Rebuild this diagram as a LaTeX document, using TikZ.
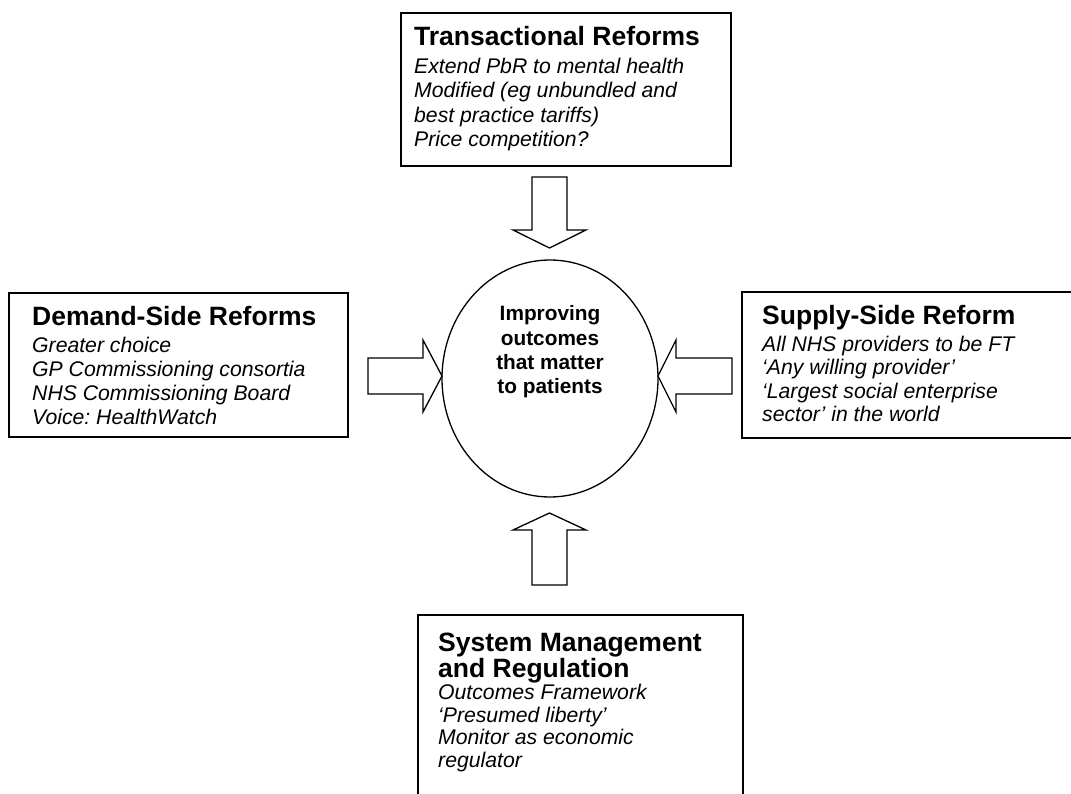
\documentclass[tikz,border=0pt]{standalone}
\usepackage{fontspec}
\setmainfont{Liberation Sans}
\usetikzlibrary{shapes.geometric}
\frenchspacing
\newcommand\myttl{\fontsize{26.5}{30}\selectfont\bfseries}
\newcommand\mybdy{\fontsize{21.2}{24}\selectfont\itshape}
\newcommand\myctr{\fontsize{20.8}{24}\selectfont\bfseries}
\newcommand\myT[1]{\hbox{\myttl #1}}
\newcommand\myB[1]{\hbox{\mybdy #1}}
\newcommand\myC[1]{\hbox to 160pt{\hfil\myctr #1\hfil}}
\newcommand\myskip[1]{\baselineskip=#1pt\relax}
\newcommand\myblock[1]{\vtop{\lineskiplimit=-100pt\lineskip=0pt\parindent=0pt #1}}
\begin{document}
\begin{tikzpicture}[x=1pt,y=-1pt,
  box/.style={draw, line width=1.8pt, inner sep=0pt, anchor=north west},
  txt/.style={anchor=base west, inner sep=0pt},
  blockarrow/.style={draw, line width=1.3pt, line join=miter}]
\useasboundingbox (0,0) rectangle (1071,794);
\clip (0,0) rectangle (1071,794);
\fill[white] (0,0) rectangle (1071,794);

% boxes
\node[box, minimum width=330pt, minimum height=153pt] (tr) at (400,12) {};
\node[box, minimum width=339pt, minimum height=144pt] (ds) at (8,292) {};
\node[box, minimum width=340pt, minimum height=146pt] (ss) at (741,291) {};
\node[box, minimum width=325pt, minimum height=190pt] (sm) at (417,614) {};

% box texts
\node[txt] (trt) at (414,46) {\myblock{%
  \myT{Transactional Reforms}\myskip{27.3}%
  \myB{Extend PbR to mental health}\myskip{24.5}%
  \myB{Modified (eg unbundled and}%
  \myB{best practice tariffs)}%
  \myB{Price competition?}}};
\node[txt] (dst) at (32,326) {\myblock{%
  \myT{Demand-Side Reforms}\myskip{27}%
  \myB{Greater choice}\myskip{24}%
  \myB{GP Commissioning consortia}%
  \myB{NHS Commissioning Board}%
  \myB{Voice: HealthWatch}}};
\node[txt] (sst) at (762,325) {\myblock{%
  \myT{Supply-Side Reform}\myskip{26.7}%
  \myB{All NHS providers to be FT}\myskip{23.3}%
  \myB{‘Any willing provider’}%
  \myB{‘Largest social enterprise}%
  \myB{sector’ in the world}}};
\node[txt] (smt) at (438,651) {\myblock{%
  \myT{System Management}\myskip{26}%
  \myT{and Regulation}\myskip{22.5}%
  \myB{Outcomes Framework}%
  \myB{‘Presumed liberty’}%
  \myB{Monitor as economic}%
  \myB{regulator}}};

% centre
\node[draw, ellipse, line width=1.3pt, minimum width=216pt, minimum height=237pt, inner sep=0pt] (c) at (550,378.5) {};
\node[anchor=base, inner sep=0pt] (ct) at (550,321) {\myblock{\myskip{24.3}%
  \myC{Improving}\myC{outcomes}\myC{that matter}\myC{to patients}}};

% block arrows
\draw[blockarrow] (532,177) -- (567,177) -- (567,230) -- (586,230) -- (549.5,248)
  -- (513,230) -- (532,230) -- cycle;
\draw[blockarrow] (532,585) -- (567,585) -- (567,530) -- (586,530) -- (549.5,513)
  -- (513,530) -- (532,530) -- cycle;
\draw[blockarrow] (368,358) -- (368,394) -- (423,394) -- (423,412) -- (442,376)
  -- (423,340) -- (423,358) -- cycle;
\draw[blockarrow] (732,358) -- (732,394) -- (676,394) -- (676,412) -- (658,376)
  -- (676,340) -- (676,358) -- cycle;
\end{tikzpicture}
\end{document}
